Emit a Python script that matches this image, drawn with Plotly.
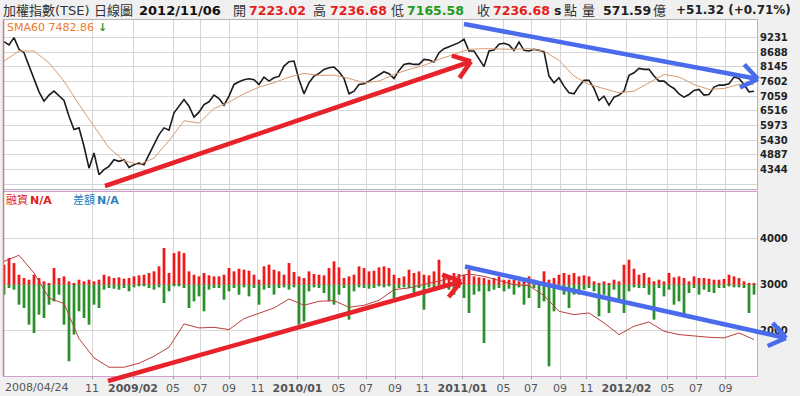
import math
import plotly.graph_objects as go

# ---------------- data ----------------
# TAIEX close, sampled at equal steps across the chart (151 samples)
close = [
    9070, 8946, 9218, 8786, 8663, 8169, 7676, 7219, 6874, 7096,
    7244, 7059, 6898, 6319, 5825, 5887, 5208, 4400, 4961, 4160,
    4345, 4468, 4715, 4653, 4715, 4431, 4530, 4591, 4530, 4900,
    5295, 5640, 5887, 5800, 6442, 6689, 6936, 6689, 6282, 6467,
    6750, 6849, 7096, 6972, 6726, 7059, 7491, 7589, 7663, 7700,
    7663, 7491, 7762, 7614, 7737, 7787, 8169, 8330, 8354, 7676,
    7145, 7552, 7799, 7898, 8046, 8107, 8132, 7959, 7713, 7145,
    7244, 7491, 7515, 7614, 7737, 7836, 7959, 7885,
    7713, 8009, 8230, 8268, 8230, 8230, 8416, 8391, 8317, 8663,
    8811, 8885, 8971, 9033, 9156, 8724, 8724, 8450, 8150, 8724,
    8761, 8971, 9008, 8946, 8749, 9057, 8749, 8724, 8786, 8749,
    8700, 7799, 7552, 7737, 7429, 7182, 7145, 7429,
    7639, 7639, 7343, 6898, 7059, 6726, 7022, 7096, 7244, 7824,
    7922, 8083, 8046, 8046, 7799, 7614, 7614, 7454, 7343, 7145,
    7022, 7120, 7269, 7306, 7096, 7120, 7392, 7466, 7466, 7515,
    7762, 7713, 7491, 7219, 7236.68,
]
# SMA60, every 3rd sample
sma60 = [
    8354, 8724, 8724, 8292, 7614, 6750, 5948, 5147, 4678, 4530,
    4776, 5418, 6150, 6063,
    6602, 6837, 7145, 7392, 7552, 7762, 7898, 7824, 7836, 7713,
    7552, 7614,
    7861, 8046, 8194, 8416, 8601, 8786, 8811, 8786, 8786, 8811,
    8724, 8379, 7799,
    7491, 7343, 7182, 7244, 7552, 7861, 7762, 7491, 7306, 7343,
    7491, 7482.86,
]
# margin balance line (億), every 3rd sample
margin_balance = [
    3506, 3636, 3254, 2712, 2590, 1832, 1414, 1212, 1212, 1298,
    1450, 1645, 2150, 2063,
    2077, 2027, 2265, 2381, 2496, 2691, 2554, 2640, 2655, 2510,
    2554, 2662,
    2893, 2929, 3001, 3073, 3160, 3232, 3181, 3088, 3001, 2979,
    2763, 2424, 2352,
    2388, 2171, 1919, 2099, 2193, 1991, 1919, 1883, 1861, 1847,
    1955, 1811,
]
# daily margin change bars (increase / decrease), drawn from the 3000 baseline
margin_up = [
    433, 577, 469, 216, 144, 108, 216, 144, 72, 36,
    361, 144, 180, 72, 36, 108, 72, 108, 72, 108,
    216, 180, 144, 159, 130, 144, 180, 202, 216, 253,
    289, 397, 794, 253, 685, 722, 685, 289, 216, 180,
    253, 202, 180, 180, 216, 361, 289, 346, 325, 303,
    216, 108, 397, 433, 325, 289, 216, 469, 274, 180,
    144, 289, 231, 216, 202, 361, 505, 375, 144, 180,
    216, 397, 361, 289, 303, 375, 397, 361,
    216, 144, 180, 325, 253, 289, 216, 202, 289, 541,
    216, 202, 253, 231, 216, 325, 180, 159, 144, 108,
    144, 180, 108, 108, 108, 72, 144, 180, 108, 72,
    289, 108, 144, 216, 253, 216, 253, 180,
    202, 180, 72, 36, 72, 36, 108, 72, 433, 541,
    346, 216, 253, 159, 72, 108, 72, 253, 159, 180,
    144, 72, 180, 144, 144, 130, 108, 108, 123, 216,
    180, 144, 72, 36, 20,
]
margin_down = [
    -216, -72, -108, -433, -505, -866, -1046, -649, -722, -433,
    -361, -216, -866, -1659, -1082, -577, -722, -866, -433, -505,
    -108, -72, -87, -108, -72, -144, -58, -36, -36, -72,
    -108, -58, -397, -144, -36, -36, -72, -505, -361, -253,
    -577, -108, -72, -72, -325, -144, -72, -216, -58, -253,
    -72, -433, -108, -72, -216, -72, -58, -108, -58, -866,
    -794, -144, -58, -72, -180, -361, -433, -216, -72, -758,
    -144, -58, -72, -87, -72, -36, -58, -36,
    -289, -72, -58, -72, -216, -72, -541, -58, -58, -72,
    -58, -108, -216, -72, -289, -613, -216, -144, -1263, -144,
    -108, -72, -144, -87, -216, -58, -433, -289, -72, -505,
    -361, -1768, -577, -108, -216, -505, -216, -216,
    -108, -72, -144, -685, -216, -613, -108, -361, -613, -144,
    -58, -72, -72, -216, -758, -72, -253, -108, -433, -361,
    -685, -180, -72, -216, -108, -159, -180, -72, -72, -36,
    -58, -58, -72, -613, -216,
]
BASE = 3000

x_tick_pos = [17.6, 25.8, 33.8, 39.3, 45.0, 50.7, 58.7, 66.9, 72.4, 78.2,
              83.7, 91.7, 99.9, 105.4, 111.2, 116.5, 124.5, 132.7, 138.4, 144.3]
x_tick_text = ["11", "<b>2009/02</b>", "05", "07", "09", "11", "<b>2010/01</b>",
               "05", "07", "09", "11", "<b>2011/01</b>", "05", "07", "09", "11",
               "<b>2012/02</b>", "05", "07", "09"]
price_ticks = [3801, 4344, 4887, 5430, 5973, 6516, 7059, 7602, 8145, 8688, 9231]
price_tick_text = [""] + [str(v) for v in price_ticks[1:]]
margin_ticks = [2000, 3000, 4000]

xs = list(range(len(close)))
xs3 = [3 * i for i in range(len(sma60))]

# ---------------- layout helpers ----------------
W, H = 800, 396
ML, MR, MT, MB = 4, 43, 20, 20
PW, PH = W - ML - MR, H - MT - MB


def pp(px, py):
    return (px - ML) / PW, (H - MB - py) / PH


FONT = "DejaVu Sans, Noto Sans CJK TC, sans-serif"

fig = go.Figure()

# price line
fig.add_trace(go.Scatter(x=xs, y=close, mode="lines",
                         line=dict(color="#1b1b1b", width=1.6),
                         xaxis="x", yaxis="y", hoverinfo="skip"))
fig.add_trace(go.Scatter(x=xs3, y=sma60, mode="lines",
                         line=dict(color="#d99a70", width=1),
                         xaxis="x", yaxis="y", hoverinfo="skip"))

# margin bars
fig.add_trace(go.Bar(x=xs, y=margin_up, base=BASE, width=0.55,
                     marker=dict(color="#f01818", line=dict(width=0)),
                     xaxis="x2", yaxis="y2", hoverinfo="skip"))
fig.add_trace(go.Bar(x=xs, y=margin_down, base=BASE, width=0.55,
                     marker=dict(color="#2a902a", line=dict(width=0)),
                     xaxis="x2", yaxis="y2", hoverinfo="skip"))
fig.add_trace(go.Scatter(x=xs3, y=margin_balance, mode="lines",
                         line=dict(color="#b8403c", width=1),
                         xaxis="x2", yaxis="y2", hoverinfo="skip"))

grid = "#d6d6d6"
xr = [0, 150.6]
fig.update_layout(
    width=W, height=H,
    margin=dict(l=ML, r=MR, t=MT, b=MB, pad=0, autoexpand=False),
    paper_bgcolor="#f0f0f0", plot_bgcolor="#ffffff",
    showlegend=False, barmode="overlay",
    xaxis=dict(domain=[0, 1], anchor="y", range=xr, tickvals=x_tick_pos,
               showticklabels=False, showgrid=True, gridcolor=grid,
               zeroline=False, showline=True, mirror=True, linecolor="#b4b4b4",
               ticks="", automargin=False),
    yaxis=dict(domain=[0.525, 1], anchor="x", range=[3628, 9869], side="right",
               tickvals=price_ticks, ticktext=price_tick_text,
               tickfont=dict(family="DejaVu Sans", size=10, color="#222",
                             weight="bold"),
               showgrid=True, gridcolor=grid, zeroline=False,
               showline=True, mirror=True, linecolor="#b4b4b4", ticks="",
               automargin=False),
    xaxis2=dict(domain=[0, 1], anchor="y2", range=xr, tickvals=x_tick_pos,
                ticktext=x_tick_text,
                tickfont=dict(family="DejaVu Sans", size=11, color="#555"),
                ticks="outside", ticklen=2, tickcolor="#999",
                showgrid=True, gridcolor=grid, zeroline=False,
                showline=True, mirror=True, linecolor="#d49ad4",
                automargin=False),
    yaxis2=dict(domain=[0, 0.517], anchor="x2", range=[1022, 5009], side="right",
                tickvals=margin_ticks,
                tickfont=dict(family="DejaVu Sans", size=10, color="#222",
                              weight="bold"),
                showgrid=True, gridcolor=grid, zeroline=False,
                showline=True, mirror=True, linecolor="#d49ad4", ticks="",
                automargin=False),
)

shapes = []
# left edge line
x0p, y0p = pp(3.5, 20)
x1p, y1p = pp(3.5, 376)
shapes.append(dict(type="line", xref="paper", yref="paper", x0=x0p, y0=y0p,
                   x1=x1p, y1=y1p, line=dict(color="#c08088", width=1.5)))


def arrow(sx, sy, tx, ty, color, width=4.5, head=20, ang=36):
    out = []
    a0, b0 = pp(sx, sy)
    a1, b1 = pp(tx, ty)
    out.append(dict(type="line", xref="paper", yref="paper", x0=a0, y0=b0,
                    x1=a1, y1=b1, line=dict(color=color, width=width)))
    dx, dy = tx - sx, ty - sy
    L = math.hypot(dx, dy)
    ux, uy = dx / L, dy / L
    for s in (1, -1):
        a = math.radians(ang) * s
        bx = -ux * math.cos(a) + uy * math.sin(a)
        by = -ux * math.sin(a) - uy * math.cos(a)
        wx, wy = pp(tx + bx * head, ty + by * head)
        out.append(dict(type="line", xref="paper", yref="paper", x0=a1, y0=b1,
                        x1=wx, y1=wy, line=dict(color=color, width=width)))
    return out


RED = "#e8222a"
BLUE = "#4a6cec"
shapes += arrow(105, 186, 471, 61.5, RED)
shapes += arrow(464, 24, 758, 79, BLUE)
shapes += arrow(108, 381, 461, 281.5, RED)
shapes += arrow(465, 266.5, 786, 338, BLUE)
fig.update_layout(shapes=shapes)

ann = []


def label(px, py, text, color="#333", size=13, family=FONT, xanchor="left"):
    ax, ay = pp(px, py)
    ann.append(dict(xref="paper", yref="paper", x=ax, y=ay, text=text,
                    showarrow=False, xanchor=xanchor, yanchor="middle",
                    font=dict(family=family, size=size, color=color)))


HRED = "#e41e1e"
HGRN = "#1f9a1f"
HY = 10
label(1, HY, "加權指數(TSE)", "#333", 13)
label(92, HY, "日線圖", "#333", 13)
label(137, HY, "<b>2012/11/06</b>", "#111", 13)
label(231, HY, "開", "#333", 13)
label(247, HY, "<b>7223.02</b>", HRED, 12.5)
label(311, HY, "高", "#333", 13)
label(328, HY, "<b>7236.68</b>", HRED, 12.5)
label(389, HY, "低", "#333", 13)
label(405, HY, "<b>7165.58</b>", HGRN, 12.5)
label(475, HY, "收", "#333", 13)
label(491, HY, "<b>7236.68</b>", HRED, 12.5)
label(552, HY, "<b>s</b>", "#222", 12.5)
label(562, HY, "點", "#333", 13)
label(580, HY, "量", "#333", 13)
label(601, HY, "<b>571.59</b>", "#222", 12.5)
label(651, HY, "億", "#333", 13)
label(674, HY, "<b>+51.32 (+0.71%)</b>", "#222", 12)

label(5, 27.5, "SMA60 7482.86", "#f07a28", 11)
label(96, 27.5, "<b>↓</b>", "#2a9a2a", 11)

label(4, 200, "融資", "#e02020", 11)
label(28, 200, "<b>N/A</b>", "#e02020", 11)
label(71, 200, "差額", "#2a80c0", 11)
label(95, 200, "<b>N/A</b>", "#2a80c0", 11)

label(3, 387, "2008/04/24", "#555", 11, "DejaVu Sans")

fig.update_layout(annotations=ann)

fig.write_html("out.html",
               config={"displayModeBar": False},
               post_script="document.body.style.margin='0';"
                           "document.body.style.padding='0';")
